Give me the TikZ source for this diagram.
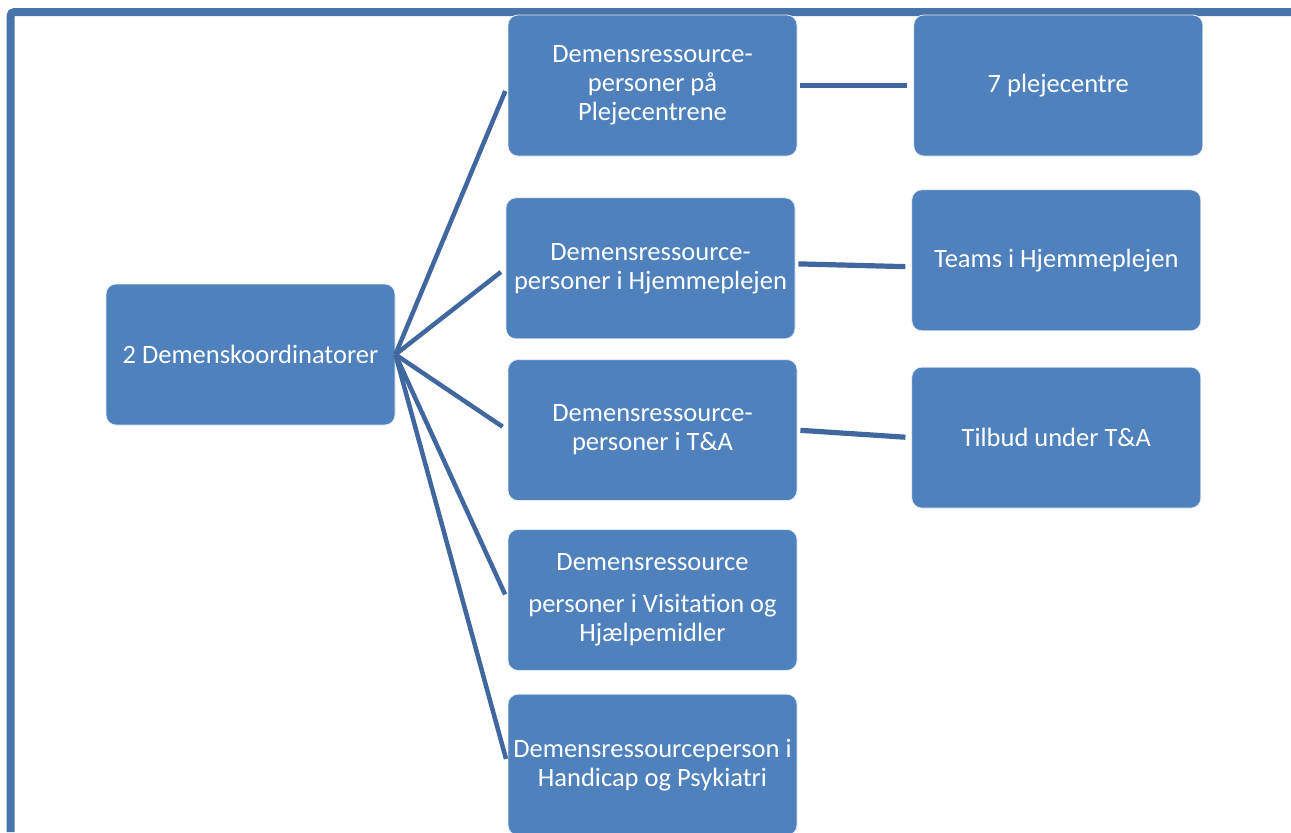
\documentclass[tikz,border=0pt]{standalone}
\usepackage{fontspec}
\setmainfont{Carlito}
\usetikzlibrary{positioning}

\definecolor{boxblue}{RGB}{79,129,189}
\definecolor{linkblue}{RGB}{64,104,158}
\definecolor{frameblue}{RGB}{71,117,170}

\begin{document}
\begin{tikzpicture}[
  box/.style={rectangle, fill=boxblue, draw=white!85!boxblue, line width=0.4pt, rounded corners=5pt,
    minimum width=144.5pt, minimum height=70.5pt, inner sep=2pt, align=center, text=white,
    font=\fontsize{13.25pt}{14.5pt}\selectfont},
  spoke/.style={draw=linkblue, line width=2.25pt, shorten >=3pt},
  link/.style={draw=linkblue, line width=2.6pt, shorten <=1.5pt, shorten >=3pt},
]
  \useasboundingbox (0,0) rectangle (645.5pt,-416pt);

  % ── Frame ──────────────────────────────────
  \draw[frameblue, line width=4pt, rounded corners=2pt] (5.25pt,-416pt) -- (5.25pt,-6pt) -- (645.5pt,-6pt);

  % ── Coordinators ───────────────────────────
  \node[box] (koord) at (125.25pt,-177.25pt) {2 Demenskoordinatorer};

  % ── Resource persons ───────────────────────
  \node[box] (pleje) at (326.25pt,-42.75pt) {Demensressource-\\personer på\\Plejecentrene};
  \node[box, below=20.5pt of pleje, xshift=-1pt] (hjem) {Demensressource-\\personer i Hjemmeplejen};
  \node[box, below=10pt of hjem, xshift=1pt] (ta) {Demensressource-\\personer i T\&A};
  \node[box, below=14pt of ta] (visit) {Demensressource\\[6.5pt]personer i Visitation og\\Hjælpemidler};
  \node[box, below=11.5pt of visit] (handicap) {Demensressourceperson i\\Handicap og Psykiatri};

  % ── Units ──────────────────────────────────
  \node[box, right=58pt of pleje] (centre) {7 plejecentre};
  \node[box, right=58pt of hjem, yshift=4pt] (teams) {Teams i Hjemmeplejen};
  \node[box, right=57pt of ta, yshift=-3.75pt] (tilbud) {Tilbud under T\&A};

  % ── Connections ────────────────────────────
  \foreach \n in {pleje, hjem, ta, visit, handicap}
    \draw[spoke] (koord.east) -- (\n.west);
  \draw[link] (pleje.east) -- (centre.west);
  \draw[link] ([yshift=2.25pt]hjem.east) -- ([yshift=-3.25pt]teams.west);
  \draw[link] (ta.east) -- (tilbud.west);

\end{tikzpicture}
\end{document}
